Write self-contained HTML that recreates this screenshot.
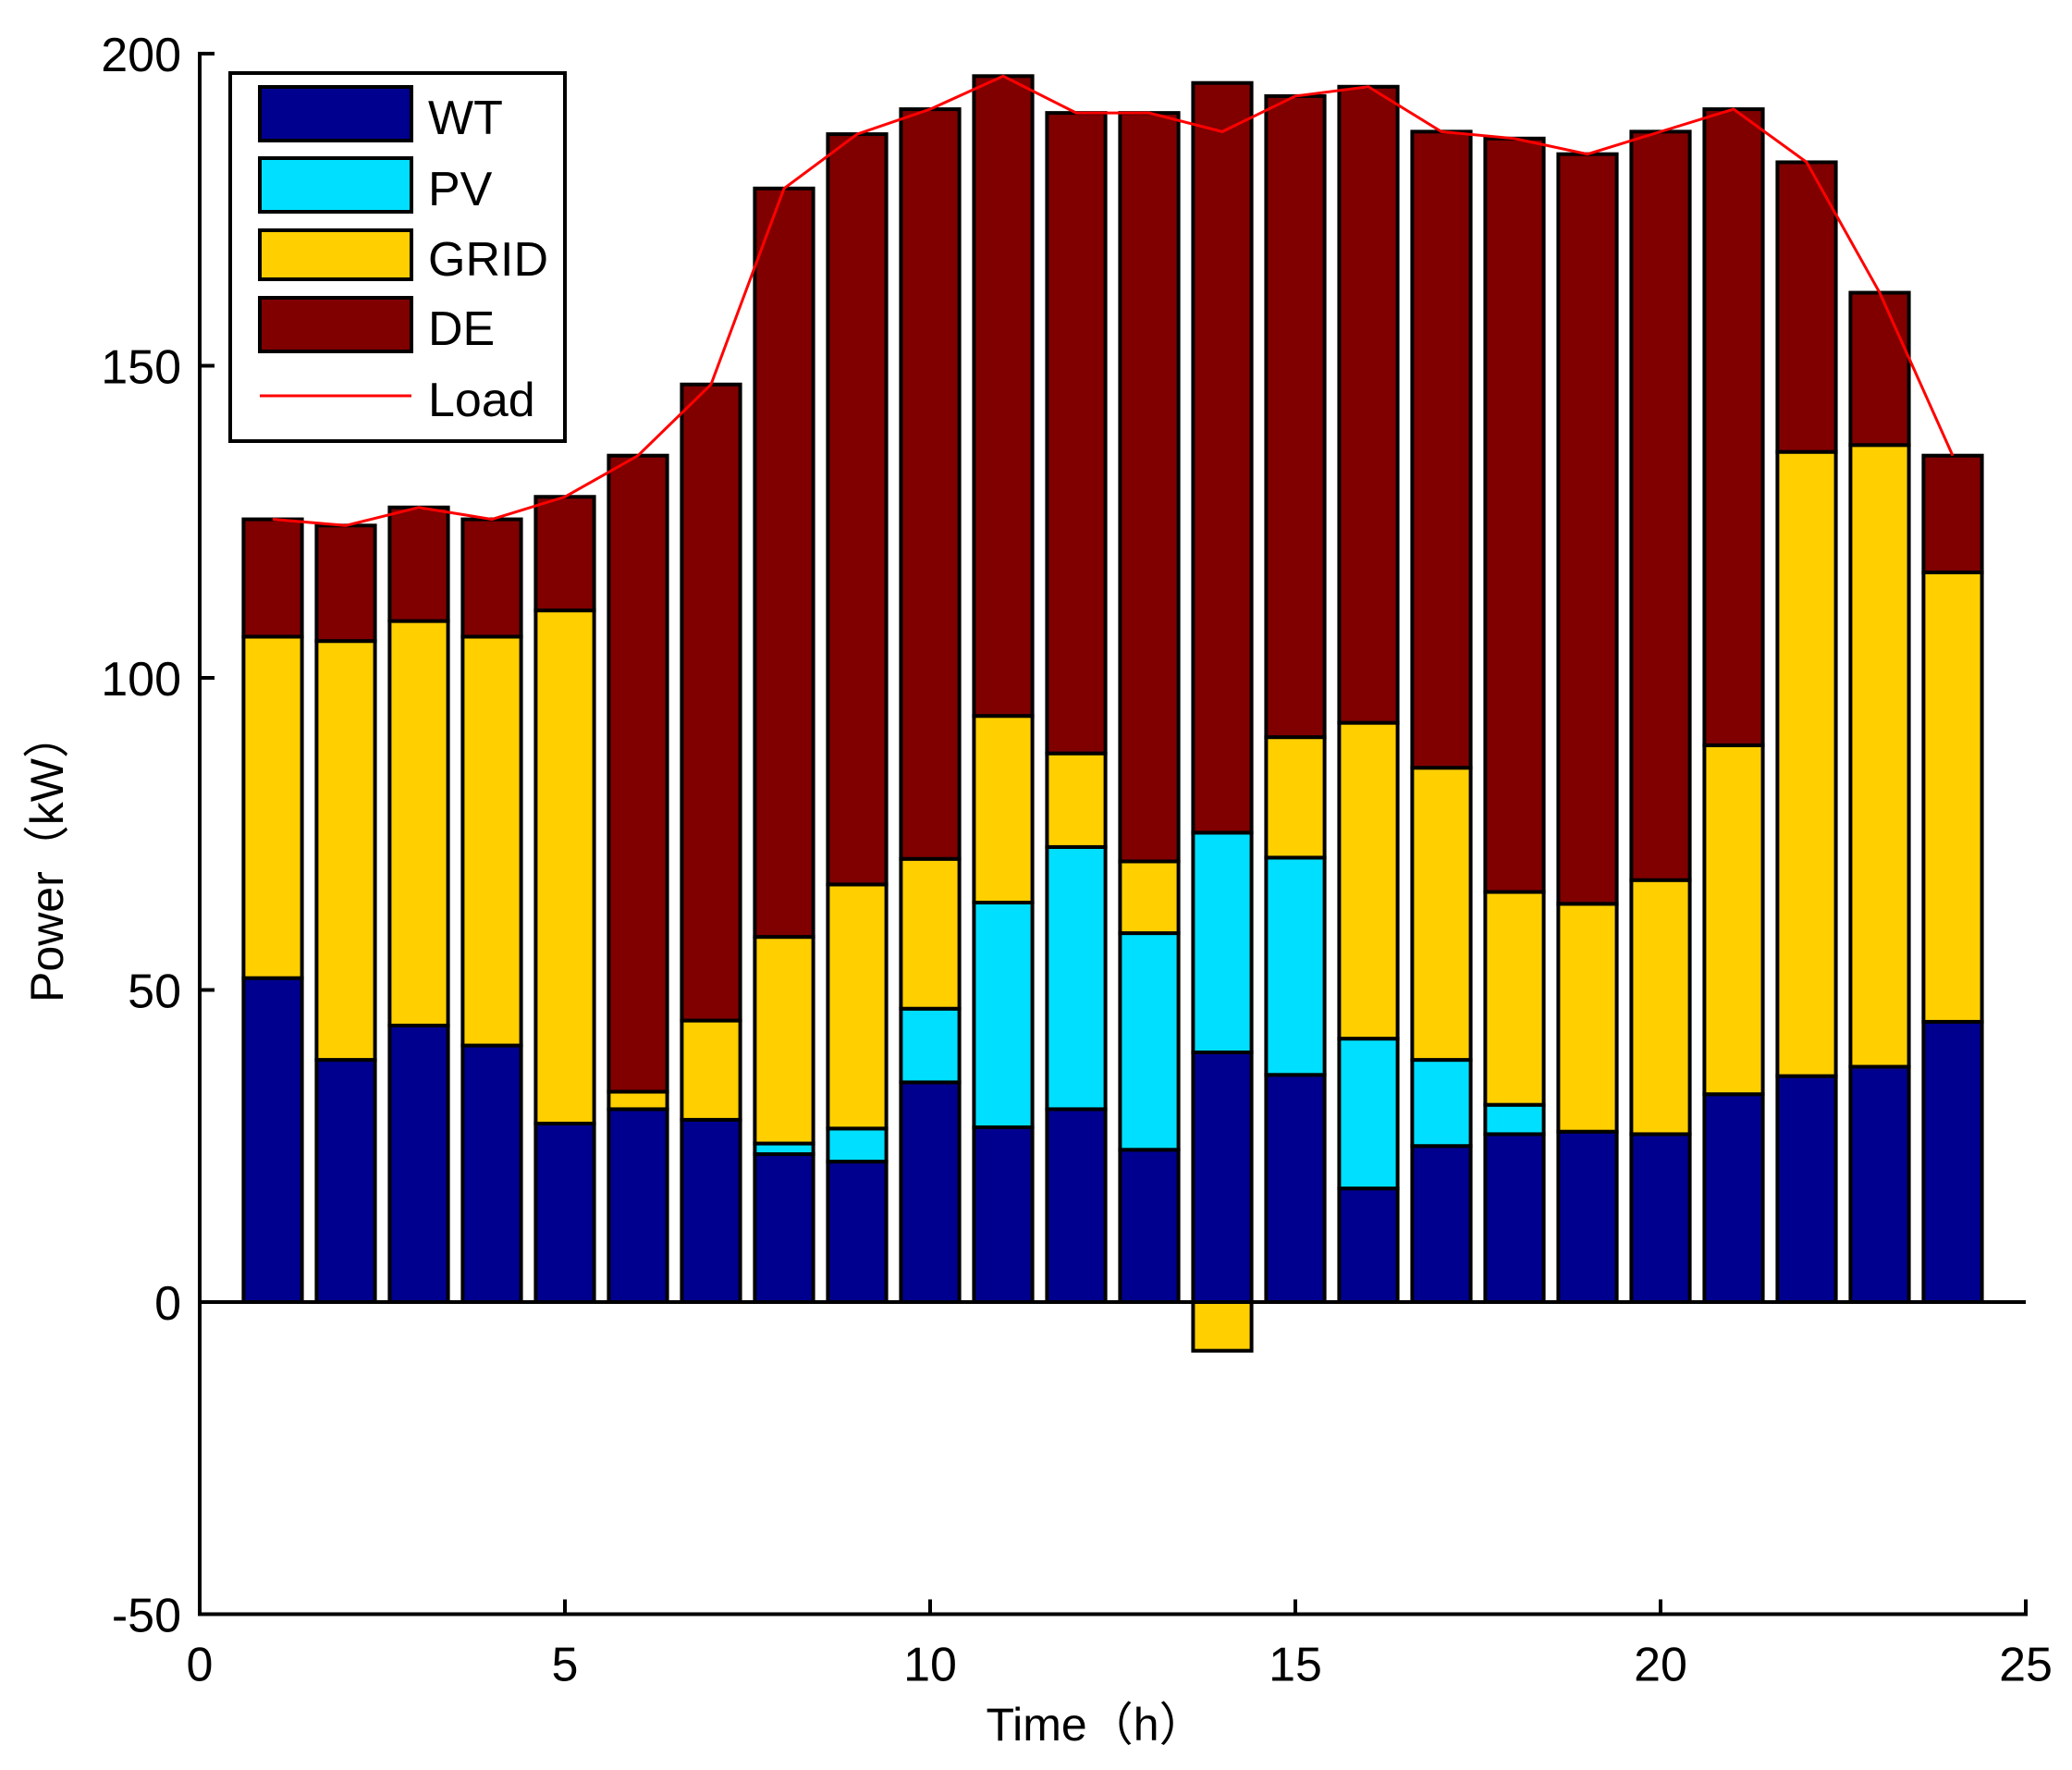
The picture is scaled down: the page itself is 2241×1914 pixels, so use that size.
<!DOCTYPE html>
<html><head><meta charset="utf-8"><style>
html,body{margin:0;padding:0;background:#fff;}
svg{display:block;}
text{font-family:"Liberation Sans","Noto Sans CJK SC",sans-serif;fill:#000;}
</style></head><body>
<svg id="chart" width="2241" height="1914" viewBox="0 0 2241 1914" xmlns="http://www.w3.org/2000/svg">
<g id="bars"></g>
<polyline id="loadline" fill="none" stroke="#ff0000" stroke-width="3"/>
<g id="axes"></g>
<g>
<rect x="249" y="79" width="362" height="398" fill="#fff" stroke="#000" stroke-width="4"/>
<rect x="281" y="94" width="164" height="58" fill="#00008f" stroke="#000" stroke-width="4"/>
<text x="463" y="145" font-size="52">WT</text>
<rect x="281" y="171" width="164" height="58" fill="#00dfff" stroke="#000" stroke-width="4"/>
<text x="463" y="222" font-size="52">PV</text>
<rect x="281" y="249" width="164" height="53" fill="#ffcf00" stroke="#000" stroke-width="4"/>
<text x="463" y="298" font-size="52">GRID</text>
<rect x="281" y="322" width="164" height="58" fill="#800000" stroke="#000" stroke-width="4"/>
<text x="463" y="373" font-size="52">DE</text>
<line x1="281" y1="428" x2="445" y2="428" stroke="#ff0000" stroke-width="3"/>
<text x="463" y="450" font-size="52">Load</text>
</g>
<text x="1185" y="1882" font-size="50" text-anchor="middle">Time（h）</text>
<text transform="translate(68,927) rotate(-90)" font-size="50" text-anchor="middle">Power（kW）</text>
</svg>
<script>
const hours=[1,2,3,4,5,6,7,8,9,10,11,12,13,14,15,16,17,18,19,20,21,22,23,24];
const wt=[51.9,38.8,44.3,41.1,28.6,30.9,29.2,23.7,22.5,35.2,28,30.9,24.4,40,36.4,18.2,25,26.9,27.3,26.9,33.3,36.2,37.7,44.9];
const pv=[0,0,0,0,0,0,0,1.7,5.3,11.8,36,42,34.7,35.2,34.8,24,13.8,4.7,0,0,0,0,0,0];
const grid=[54.7,67.1,64.8,65.5,82.2,2.8,15.9,33.1,39.1,24,29.9,15,11.5,-7.8,19.3,50.6,46.8,34.1,36.5,40.7,55.9,100,99.6,72];
const de=[18.8,18.5,18.2,18.8,18.2,101.9,101.9,119.9,120.2,120.1,102.5,102.6,119.9,120.1,102.7,101.9,101.9,120.7,120.1,119.9,101.9,46.4,24.4,18.7];
const load=[125.4,124.4,127.3,125.4,129,135.6,147,178.4,187.1,191.1,196.4,190.5,190.5,187.5,193.2,194.7,187.5,186.4,183.9,187.5,191.1,182.6,161.7,135.6];
const xTicks=[0,5,10,15,20,25];
const yTicks=[-50,0,50,100,150,200];

const NS='http://www.w3.org/2000/svg';
const X0=216,X1=2191,Y0=1408,PPU=6.75;
const xs=v=>X0+(v/25)*(X1-X0);
const ys=v=>Y0-v*PPU;
const barW=0.8;
function mk(tag,attrs,parent){const e=document.createElementNS(NS,tag);for(const k in attrs)e.setAttribute(k,attrs[k]);parent.appendChild(e);return e;}
const gb=document.getElementById('bars');
const colors={wt:'#00008f',pv:'#00dfff',grid:'#ffcf00',de:'#800000'};
hours.forEach((h,i)=>{
  const x=xs(h-barW/2),w=xs(h+barW/2)-x;
  let base=0;
  const segs=[['wt',wt[i]],['pv',pv[i]],['grid',grid[i]],['de',de[i]]];
  segs.forEach(([k,v])=>{
    if(v===0)return;
    let a,b;
    if(v<0){a=0;b=v;}else{a=base;b=base+v;base=b;}
    const r=mk('rect',{x:x,y:ys(Math.max(a,b)),width:w,height:Math.abs(ys(a)-ys(b)),fill:colors[k],stroke:'#000','stroke-width':4},gb);
    
    
  });
});
document.getElementById('loadline').setAttribute('points',hours.map((h,i)=>xs(h)+','+ys(load[i])).join(' '));
const ga=document.getElementById('axes');
let l;
l=mk('line',{x1:X0,y1:ys(0),x2:X1,y2:ys(0),stroke:'#000','stroke-width':4},ga);


l=mk('line',{x1:X0,y1:ys(200)-2,x2:X0,y2:ys(-50)+2,stroke:'#000','stroke-width':4},ga);


l=mk('line',{x1:X0-2,y1:ys(-50),x2:X1+2,y2:ys(-50),stroke:'#000','stroke-width':4},ga);


yTicks.forEach(v=>{
  const t=mk('line',{x1:X0,y1:ys(v),x2:X0+16,y2:ys(v),stroke:'#000','stroke-width':4},ga);
  
  
  const tx=mk('text',{x:196,y:ys(v)+19,'font-size':52,'text-anchor':'end'},ga);
  tx.textContent=v;
  
  
});
xTicks.forEach(v=>{
  const t=mk('line',{x1:xs(v),y1:ys(-50),x2:xs(v),y2:ys(-50)-16,stroke:'#000','stroke-width':4},ga);
  
  
  const tx=mk('text',{x:xs(v),y:ys(-50)+72,'font-size':52,'text-anchor':'middle'},ga);
  tx.textContent=v;
  
  
});
</script>
</body></html>
